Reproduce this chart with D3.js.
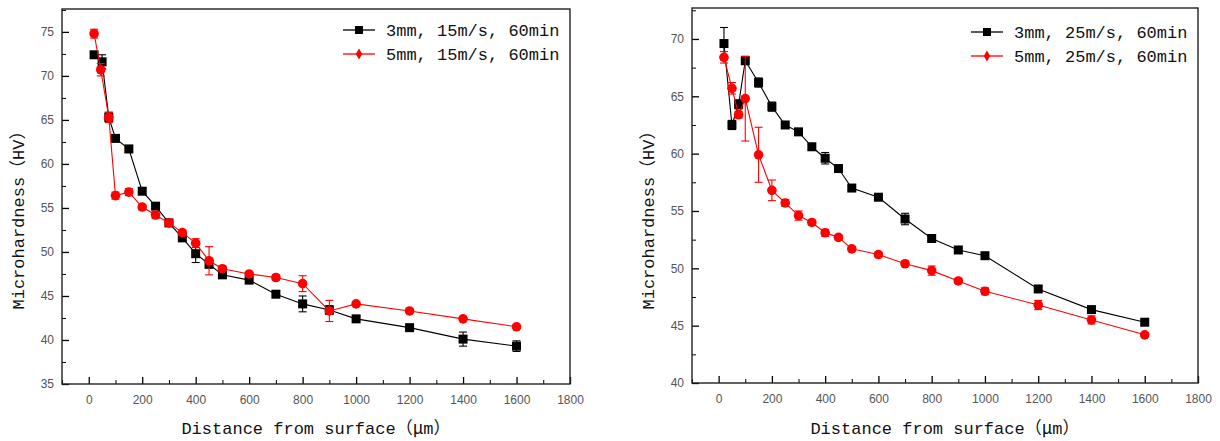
<!DOCTYPE html>
<html>
<head>
<meta charset="utf-8">
<script src="https://cdn.jsdelivr.net/npm/d3@7"></script>
<style>
  body { margin: 0; background: #fff; }
  svg { display: block; }
  .tick text { font-family: "Liberation Sans", Arial, sans-serif; font-size: 12px; fill: #555; }
  .axis-label, .legend text { font-family: "Liberation Mono", "Noto Sans CJK SC", monospace; font-size: 17px; fill: #111; }
</style>
</head>
<body>
<div id="chart"></div>
<script>
// distances (um) where hardness was measured
const distances = [20, 50, 75, 100, 150, 200, 250, 300, 350, 400, 450, 500, 600, 700, 800, 900, 1000, 1200, 1400, 1600];
const distancesRedLeft = [20, 45, 75, 100, 150, 200, 250, 300, 350, 400, 450, 500, 600, 700, 800, 900, 1000, 1200, 1400, 1600];

// left panel: 15 m/s
const black15 = [72.4, 71.6, 65.3, 62.9, 61.7, 56.9, 55.2, 53.3, 51.6, 49.8, 48.6, 47.4, 46.8, 45.2, 44.1, 43.4, 42.4, 41.4, 40.1, 39.3];
const black15Err = [0.2, 0.8, 0.5, 0.3, 0.4, 0.3, 0.3, 0.2, 0.3, 1.0, 0.4, 0.2, 0.2, 0.2, 0.9, 0.5, 0.2, 0.2, 0.8, 0.6];
const red15 = [74.8, 70.7, 65.3, 56.4, 56.8, 55.1, 54.2, 53.3, 52.2, 51.0, 49.0, 48.1, 47.5, 47.1, 46.4, 43.3, 44.1, 43.3, 42.4, 41.5];
const red15Err = [0.5, 0.7, 0.6, 0.4, 0.4, 0.3, 0.4, 0.3, 0.3, 0.5, 1.6, 0.3, 0.2, 0.3, 0.9, 1.2, 0.2, 0.2, 0.2, 0.2];

// right panel: 25 m/s
const black25 = [69.6, 62.5, 64.3, 68.1, 66.2, 64.1, 62.5, 61.9, 60.6, 59.6, 58.7, 57.0, 56.2, 54.3, 52.6, 51.6, 51.1, 48.2, 46.4, 45.3];
const black25Err = [1.4, 0.4, 0.4, 0.3, 0.4, 0.4, 0.2, 0.2, 0.2, 0.5, 0.2, 0.2, 0.2, 0.5, 0.2, 0.3, 0.2, 0.2, 0.2, 0.2];
const red25 = [68.4, 65.7, 63.4, 64.8, 59.9, 56.8, 55.7, 54.6, 54.0, 53.1, 52.7, 51.7, 51.2, 50.4, 49.8, 48.9, 48.0, 46.8, 45.5, 44.2];
const red25Err = [0.5, 0.5, 0.3, 3.7, 2.4, 0.9, 0.3, 0.4, 0.2, 0.3, 0.2, 0.2, 0.2, 0.2, 0.4, 0.2, 0.3, 0.4, 0.35, 0.2];

const xTicks = [0, 200, 400, 600, 800, 1000, 1200, 1400, 1600, 1800];
const yTicksLeft = [35, 40, 45, 50, 55, 60, 65, 70, 75];
const yTicksRight = [40, 45, 50, 55, 60, 65, 70];

const yLabel = "Microhardness\uFF08HV\uFF09";

const svg = d3.select("#chart").append("svg")
    .attr("width", 1220)
    .attr("height", 441);

function zip(xs, ys, es) {
    return xs.map((x, i) => ({x: x, y: ys[i], e: es[i]}));
}

function drawPanel(opt) {
    let x = d3.scaleLinear().domain([-100, 1800]).range([opt.left, opt.right]);
    let y = d3.scaleLinear().domain(opt.yDomain).range([opt.bottom, opt.top]);

    let g = svg.append("g");

    // minor ticks
    let xMinor = d3.range(-100, 1800, 200);
    let yMinor = opt.yTicks.map(v => v + 2.5).filter(v => v < opt.yDomain[1]);

    g.append("g")
        .attr("transform", `translate(0, ${opt.bottom})`)
        .call(d3.axisBottom(x).tickValues(xMinor).tickSize(-4).tickFormat(""))
        .call(a => a.select(".domain").remove());
    g.append("g")
        .attr("transform", `translate(${opt.left}, 0)`)
        .call(d3.axisLeft(y).tickValues(yMinor).tickSize(-4).tickFormat(""))
        .call(a => a.select(".domain").remove());

    // major ticks
    g.append("g")
        .attr("transform", `translate(0, ${opt.bottom})`)
        .call(d3.axisBottom(x).tickValues(xTicks).tickSize(-7).tickPadding(11).tickFormat(d3.format("d")))
        .call(a => a.select(".domain").remove())
        .selectAll("line").attr("stroke-width", 1.3);
    g.append("g")
        .attr("transform", `translate(${opt.left}, 0)`)
        .call(d3.axisLeft(y).tickValues(opt.yTicks).tickSize(-7).tickPadding(8).tickFormat(d3.format("d")))
        .call(a => a.select(".domain").remove())
        .selectAll("line").attr("stroke-width", 1.3);

    // frame
    g.append("rect")
        .attr("x", opt.left)
        .attr("y", opt.top)
        .attr("width", opt.right - opt.left)
        .attr("height", opt.bottom - opt.top)
        .attr("fill", "none")
        .attr("stroke", "#222")
        .attr("stroke-width", 1.4);

    // axis labels
    let xl = g.append("text")
        .attr("class", "axis-label")
        .attr("x", (opt.left + opt.right) / 2)
        .attr("y", 434)
        .attr("text-anchor", "middle");
    xl.append("tspan").text("Distance from surface\uFF08");
    xl.append("tspan").style("font-family", "'Noto Sans CJK SC'").text("\u03BC");
    xl.append("tspan").text("m\uFF09");

    g.append("text")
        .attr("class", "axis-label")
        .attr("transform", `translate(${opt.left - 38}, 216) rotate(-90)`)
        .attr("text-anchor", "middle")
        .text(yLabel);

    let line = d3.line().x(d => x(d.x)).y(d => y(d.y));

    opt.series.forEach(s => {
        let sg = g.append("g");
        sg.append("path")
            .datum(s.data)
            .attr("d", line)
            .attr("fill", "none")
            .attr("stroke", s.color)
            .attr("stroke-width", 1.1);

        // error bars
        let eb = sg.selectAll(".err").data(s.data).enter().append("g");
        eb.append("line")
            .attr("x1", d => x(d.x)).attr("x2", d => x(d.x))
            .attr("y1", d => y(d.y - d.e)).attr("y2", d => y(d.y + d.e))
            .attr("stroke", s.color).attr("stroke-width", 1.1);
        [-1, 1].forEach(k => {
            eb.append("line")
                .attr("x1", d => x(d.x) - 4).attr("x2", d => x(d.x) + 4)
                .attr("y1", d => y(d.y + k * d.e)).attr("y2", d => y(d.y + k * d.e))
                .attr("stroke", s.color).attr("stroke-width", 1.1);
        });

        // markers
        if (s.shape === "square") {
            sg.selectAll(".mk").data(s.data).enter().append("rect")
                .attr("x", d => x(d.x) - 4.5)
                .attr("y", d => y(d.y) - 4.5)
                .attr("width", 9).attr("height", 9)
                .attr("fill", s.color);
        } else {
            sg.selectAll(".mk").data(s.data).enter().append("circle")
                .attr("cx", d => x(d.x))
                .attr("cy", d => y(d.y))
                .attr("r", 4.8)
                .attr("fill", s.color);
        }
    });

    // legend
    let lg = g.append("g").attr("class", "legend");
    opt.series.forEach((s, i) => {
        let cy = opt.legendY + i * 24;
        lg.append("line")
            .attr("x1", opt.legendX).attr("x2", opt.legendX + 32)
            .attr("y1", cy).attr("y2", cy)
            .attr("stroke", s.color).attr("stroke-width", 1.3);
        if (s.shape === "square") {
            lg.append("rect")
                .attr("x", opt.legendX + 12).attr("y", cy - 4)
                .attr("width", 8).attr("height", 8)
                .attr("fill", s.color);
        } else {
            lg.append("path")
                .attr("transform", `translate(${opt.legendX + 16}, ${cy})`)
                .attr("d", d3.symbol(d3.symbolDiamond, 36)())
                .attr("fill", s.color);
        }
        lg.append("text")
            .attr("x", opt.legendX + 43)
            .attr("y", cy + 6)
            .text(s.name);
    });
}

drawPanel({
    left: 62, right: 570, top: 9, bottom: 384,
    yDomain: [35, 77.6],
    yTicks: yTicksLeft,
    legendX: 343, legendY: 30,
    series: [
        {name: "3mm, 15m/s, 60min", color: "#000", shape: "square", data: zip(distances, black15, black15Err)},
        {name: "5mm, 15m/s, 60min", color: "#f00", shape: "circle", data: zip(distancesRedLeft, red15, red15Err)}
    ]
});

drawPanel({
    left: 692, right: 1198, top: 8, bottom: 383,
    yDomain: [40, 72.7],
    yTicks: yTicksRight,
    legendX: 971, legendY: 32,
    series: [
        {name: "3mm, 25m/s, 60min", color: "#000", shape: "square", data: zip(distances, black25, black25Err)},
        {name: "5mm, 25m/s, 60min", color: "#f00", shape: "circle", data: zip(distances, red25, red25Err)}
    ]
});
</script>
</body>
</html>
